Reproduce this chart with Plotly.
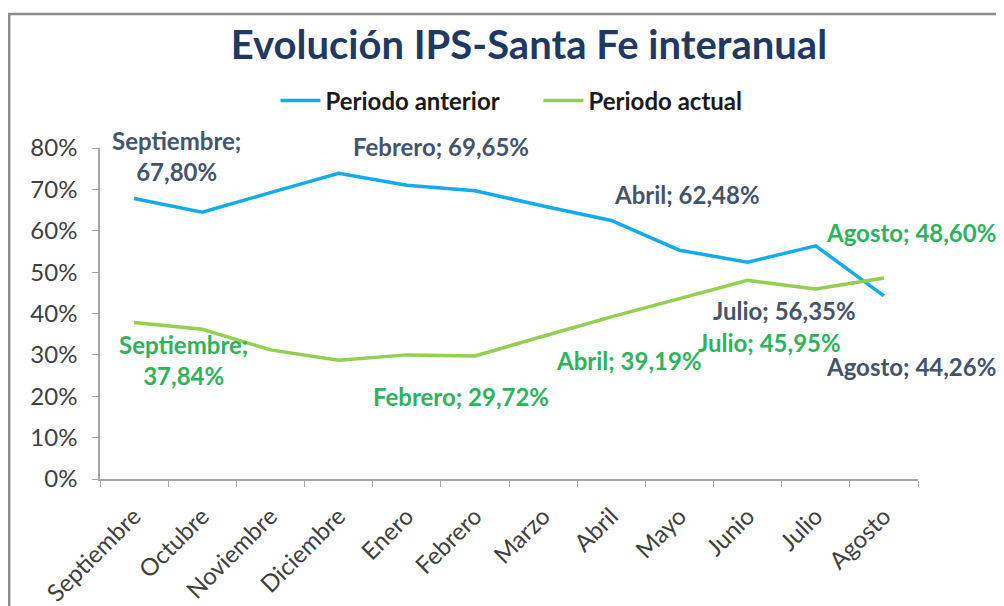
import plotly.graph_objects as go

months = ["Septiembre", "Octubre", "Noviembre", "Diciembre", "Enero", "Febrero",
          "Marzo", "Abril", "Mayo", "Junio", "Julio", "Agosto"]
periodo_anterior = [67.80, 64.5, 69.2, 73.9, 71.0, 69.65, 66.0, 62.48, 55.3, 52.4, 56.35, 44.26]
periodo_actual = [37.84, 36.2, 31.2, 28.7, 30.0, 29.72, 34.5, 39.19, 43.6, 48.0, 45.95, 48.60]
y_ticks = [0, 10, 20, 30, 40, 50, 60, 70, 80]

# labelled points: (month index, xshift, yshift)
labels_anterior = [(0, 42, 42), (5, -34, 44), (7, 76, 26), (10, -31, -65), (11, 27, -71)]
labels_actual = [(0, 49, -38), (5, -14, -40), (7, 18, -44), (10, -46, -54), (11, 27, 45)]

BLUE = "#12ACEC"
GREEN = "#92D050"
BLUE_TXT = "#44546A"
GREEN_TXT = "#2EB35C"
FONT = "Lato"

fig = go.Figure()
fig.add_trace(go.Scatter(x=months, y=periodo_anterior, mode="lines", name="Periodo anterior",
                         line=dict(color=BLUE, width=3.5)))
fig.add_trace(go.Scatter(x=months, y=periodo_actual, mode="lines", name="Periodo actual",
                         line=dict(color=GREEN, width=3.5)))


def fmt(m, v):
    s = f"{v:.2f}".replace(".", ",")
    if m == "Septiembre":
        return f"{m};<br>{s}%"
    return f"{m}; {s}%"


annotations = []
for series, labs, col in [(periodo_anterior, labels_anterior, BLUE_TXT),
                          (periodo_actual, labels_actual, GREEN_TXT)]:
    for i, dx, dy in labs:
        annotations.append(dict(x=months[i], y=series[i], xref="x", yref="y",
                                text=fmt(months[i], series[i]), showarrow=False,
                                xshift=dx, yshift=dy,
                                font=dict(family=FONT, size=24, color=col, weight="bold"),
                                align="center"))

fig.update_layout(
    width=996, height=598,
    margin=dict(l=92, r=86, t=140, b=127, autoexpand=False),
    paper_bgcolor="white", plot_bgcolor="white",
    title=dict(text="Evolución IPS-Santa Fe interanual", x=0.523, xanchor="center",
               y=0.938, yanchor="middle",
               font=dict(family=FONT, size=40, color="#1F3864", weight="bold")),
    legend=dict(orientation="h", x=0.2145, xanchor="left", y=1.142, yanchor="middle",
                font=dict(family=FONT, size=24, color="#1a1a1a", weight="bold"),
                entrywidth=208, entrywidthmode="pixels",
                itemwidth=40, bgcolor="rgba(0,0,0,0)"),
    annotations=annotations,
    xaxis=dict(range=[-0.5, 11.5], tickson="boundaries", ticks="outside", ticklen=6,
               tickcolor="#A6A6A6", showline=True, linecolor="#A6A6A6", linewidth=1.5,
               showgrid=False, tickangle=-45, ticklabelstandoff=12, automargin=False,
               tickfont=dict(family=FONT, size=24, color="#404040")),
    yaxis=dict(range=[0, 80], tickvals=y_ticks, ticktext=[f"{v}%" for v in y_ticks],
               ticks="outside", ticklen=6, tickcolor="#A6A6A6", showline=True,
               linecolor="#A6A6A6", linewidth=1.5, showgrid=False, zeroline=False,
               ticklabelstandoff=10, automargin=False,
               tickfont=dict(family=FONT, size=24, color="#404040")),
    shapes=[dict(type="rect", xref="paper", yref="paper",
                 x0=-0.111, x1=1.104, y0=-0.40, y1=1.405,
                 line=dict(color="#8C8C8C", width=2.5), fillcolor="rgba(0,0,0,0)",
                 layer="below")],
    showlegend=True,
)

fig.write_html("out.html")
